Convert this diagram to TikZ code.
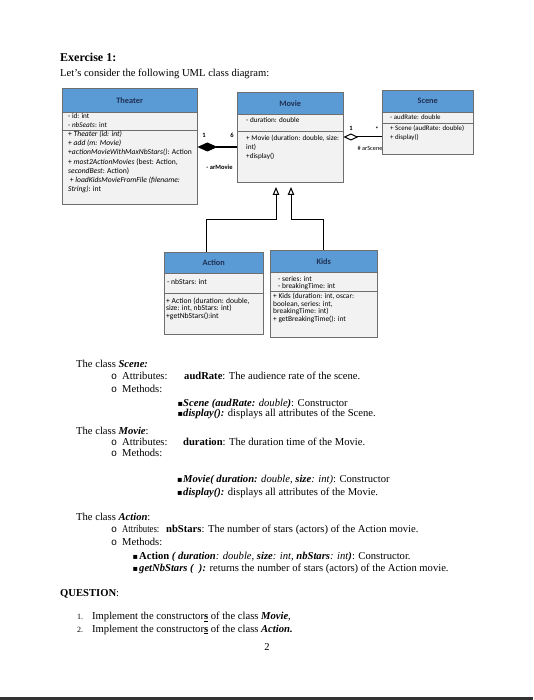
\documentclass[tikz,border=0pt]{standalone}
\usepackage{fontspec}
\setmainfont{Liberation Serif}
\newfontfamily\umlfont{Carlito}
\newfontfamily\bulletfont{DejaVu Sans}
\newfontfamily\circfont{Liberation Mono}
\usetikzlibrary{arrows.meta}

\definecolor{headblue}{RGB}{91,155,213}
\definecolor{bodygray}{RGB}{242,242,242}
\definecolor{edgegray}{RGB}{110,110,110}
\definecolor{titleblue}{RGB}{31,48,84}

\tikzset{
  classhead/.style={draw=edgegray, fill=headblue, inner sep=0pt, anchor=north west,
    text=titleblue, font=\umlfont\bfseries\fontsize{8.3}{9}\selectfont},
  classbody/.style={draw=edgegray, fill=bodygray, inner sep=0pt, anchor=north west},
  members/.style={inner sep=0pt, anchor=north west, align=left,
    font=\umlfont\fontsize{7.2}{9}\selectfont},
  sepline/.style={draw=edgegray, line width=0.4pt},
  rolelabel/.style={inner sep=0pt, font=\umlfont\bfseries\fontsize{6.5}{7}\selectfont},
  composition/.style={line width=1.2pt, -{Diamond[length=20pt,width=9pt]}},
  aggregation/.style={line width=1pt, -{Diamond[open,fill=white,length=15pt,width=7pt]}},
  inherit/.style={line width=1pt, -{Triangle[open,fill=white,length=8pt,width=6.5pt]}},
  txt/.style={inner sep=0pt, anchor=base west, font=\fontsize{10.6}{12}\selectfont},
  circbul/.style={inner sep=0pt, anchor=base west, font=\circfont\fontsize{10}{12}\selectfont},
  sqbul/.style={inner sep=0pt, anchor=base west, font=\bulletfont\fontsize{8}{9}\selectfont},
}

\begin{document}
\begin{tikzpicture}[x=1pt,y=-1pt]
  \fill[white] (0,0) rectangle (533,700);
  \useasboundingbox (0,0) rectangle (533,700);

  % heading
  \node[txt, font=\bfseries\fontsize{12}{14}\selectfont] (extitle) at (60,61.5) {Exercise 1:};
  \node[txt] (exintro) at (60,77) {Let’s consider the following UML class diagram:};

  % Theater
  \node[classhead, minimum width=135pt, minimum height=24pt] (theater) at (62,88) {Theater};
  \node[classbody, minimum width=135pt, minimum height=92pt] (theaterbody) at (theater.south west) {};
  \draw[sepline] (theaterbody.west |- 0,130) -- (theaterbody.east |- 0,130);
  \node[members] (theaterattr) at (68,113) {- id: int\\- \textit{nbSeats}: int};
  \node[members, font=\umlfont\fontsize{7.6}{9.1}\selectfont] (theaterops) at (68,131)
    {+ \textit{Theater (id: int)}\\
     + \textit{add (m: Movie)}\\
     +\textit{actionMovieWithMaxNbStars()}: Action\\
     + \textit{most2ActionMovies} (best: Action,\\
     \textit{secondBest}: Action)\\
     \ + \textit{loadKidsMovieFromFile (filename:}\\
     \textit{String)}: int};

  % Movie
  \node[classhead, minimum width=106pt, minimum height=22pt] (movie) at (237,92) {Movie};
  \node[classbody, minimum width=106pt, minimum height=68pt] (moviebody) at (movie.south west) {};
  \draw[sepline] (moviebody.west |- 0,131) -- (moviebody.east |- 0,131);
  \node[members] (movieattr) at (246,117) {- duration: double};
  \node[members] (movieops) at (246,135)
    {+ Movie (duration: double, size:\\int)\\+display()};

  % Scene
  \node[classhead, minimum width=91pt, minimum height=22pt] (scene) at (382,90) {Scene};
  \node[classbody, minimum width=91pt, minimum height=42pt] (scenebody) at (scene.south west) {};
  \draw[sepline] (scenebody.west |- 0,123) -- (scenebody.east |- 0,123);
  \node[members, font=\umlfont\fontsize{6.9}{9}\selectfont] (sceneattr) at (390,115) {- audRate: double};
  \node[members, font=\umlfont\fontsize{6.9}{9}\selectfont] (sceneops) at (390,125) {+ Scene (audRate: double)\\+ display()};

  % Action
  \node[classhead, minimum width=99pt, minimum height=21pt] (action) at (164,252) {Action};
  \node[classbody, minimum width=99pt, minimum height=61pt] (actionbody) at (action.south west) {};
  \draw[sepline] (actionbody.west |- 0,293) -- (actionbody.east |- 0,293);
  \node[members, font=\umlfont\fontsize{7.6}{9}\selectfont] (actionattr) at (167,279) {- nbStars: int};
  \node[members, font=\umlfont\fontsize{7.6}{7.7}\selectfont] (actionops) at (166,297.5)
    {+ Action (duration: double,\\size: int, nbStars: int)\\+getNbStars():int};

  % Kids
  \node[classhead, minimum width=107pt, minimum height=22pt] (kids) at (270,250) {Kids};
  \node[classbody, minimum width=107pt, minimum height=65pt] (kidsbody) at (kids.south west) {};
  \draw[sepline] (kidsbody.west |- 0,291) -- (kidsbody.east |- 0,291);
  \node[members, font=\umlfont\fontsize{7.4}{7.5}\selectfont] (kidsattr) at (278,276)
    {- series: int\\- breakingTime: int};
  \node[members, font=\umlfont\fontsize{7.4}{7.5}\selectfont] (kidsops) at (273,293)
    {+ Kids (duration: int, oscar:\\boolean, series: int,\\breakingTime: int)\\+ getBreakingTime(): int};

  % associations
  \draw[composition] (moviebody.west |- 0,147) -- (theaterbody.east |- 0,147);
  \node[rolelabel] (mult1) at (204,135) {1};
  \node[rolelabel] (mult6) at (232,135) {6};
  \node[rolelabel] (armovie) at (219.5,167) {- arMovie};
  \draw[aggregation] (scenebody.west |- 0,137) -- (moviebody.east |- 0,137);
  \node[rolelabel] (multone) at (351,128) {1};
  \node[rolelabel] (multstar) at (377,129) {*};
  \node[rolelabel, font=\umlfont\fontsize{6.3}{7}\selectfont] (arscene) at (370,148) {\# arScene};

  % inheritance
  \coordinate (tipaction) at (276,187);
  \coordinate (tipkids) at (291,187);
  \draw[inherit] ([xshift=42pt]action.north west) |- (tipaction |- 0,220) -- (tipaction);
  \draw[inherit] (kids.north) |- (tipkids |- 0,220) -- (tipkids);

  % class Scene
  \node[txt] (scenecls) at (76,367) {The class \textbf{\textit{Scene:}}};
  \node[circbul] (sceneob1) at (111,379) {o};
  \node[txt] (sceneattrs) at (122,379) {Attributes:};
  \node[txt] (sceneattrtxt) at (184,379) {\textbf{audRate}: The audience rate of the scene.};
  \node[circbul] (sceneob2) at (111,392.7) {o};
  \node[txt] (scenemeths) at (122,392.7) {Methods:};
  \node[sqbul] (scenesq1) at (177.5,406) {▪};
  \node[txt] (scenem1) at (183,406) {\textbf{\textit{Scene (audRate:}} \textit{double}\textbf{\textit{)}}: Constructor};
  \node[sqbul] (scenesq2) at (177.5,416.5) {▪};
  \node[txt] (scenem2) at (183,416.5) {\textbf{\textit{display():}} displays all attributes of the Scene.};

  % class Movie
  \node[txt] (moviecls) at (76,434) {The class \textbf{\textit{Movie}}:};
  \node[circbul] (movieob1) at (111,445.3) {o};
  \node[txt] (movieattrs) at (122,445.3) {Attributes:};
  \node[txt] (movieattrtxt) at (183,445.3) {\textbf{duration}: The duration time of the Movie.};
  \node[circbul] (movieob2) at (111,456) {o};
  \node[txt] (moviemeths) at (122,456) {Methods:};
  \node[sqbul] (moviesq1) at (177,482.5) {▪};
  \node[txt] (moviem1) at (183,482.5) {\textbf{\textit{Movie( duration:}} \textit{double, }\textbf{\textit{size}}\textit{: int)}: Constructor};
  \node[sqbul] (moviesq2) at (177,495.7) {▪};
  \node[txt] (moviem2) at (183,495.7) {\textbf{\textit{display():}} displays all attributes of the Movie.};

  % class Action
  \node[txt] (actioncls) at (76,520) {The class \textbf{\textit{Action}}:};
  \node[circbul] (actionob1) at (111,532.7) {o};
  \node[txt] (actionattrs) at (122,532.7) {\scalebox{0.82}[1]{Attributes:}};
  \node[txt] (actionattrtxt) at (166,532.7) {\textbf{nbStars}: The number of stars (actors) of the Action movie.};
  \node[circbul] (actionob2) at (111,545) {o};
  \node[txt] (actionmeths) at (122,545) {Methods:};
  \node[sqbul] (actionsq1) at (132.5,559.3) {▪};
  \node[txt] (actionm1) at (139,559.3) {\textbf{Action} \textbf{\textit{( duration}}\textit{: double, }\textbf{\textit{size}}\textit{: int, }\textbf{\textit{nbStars}}\textit{: int}\textbf{\textit{)}}: Constructor.};
  \node[sqbul] (actionsq2) at (132.5,571) {▪};
  \node[txt] (actionm2) at (139,571) {\textbf{\textit{getNbStars (\ \ ):}} returns the number of stars (actors) of the Action movie.};

  % question
  \node[txt] (question) at (60,596.7) {\textbf{QUESTION}:};
  \node[txt, font=\fontsize{8}{10}\selectfont] (qnum1) at (77,619.3) {1.};
  \node[txt] (q1) at (92,619.3) {Implement the constructor\underline{\textbf{s}} of the class \textbf{\textit{Movie}},};
  \node[txt, font=\fontsize{8}{10}\selectfont] (qnum2) at (77,632) {2.};
  \node[txt] (q2) at (92,632) {Implement the constructor\underline{\textbf{s}} of the class \textbf{\textit{Action.}}};
  \node[txt, anchor=base] (pagenum) at (267,650.7) {2};

  \fill[black!80] (0,696.5) rectangle (533,700);
\end{tikzpicture}
\end{document}
